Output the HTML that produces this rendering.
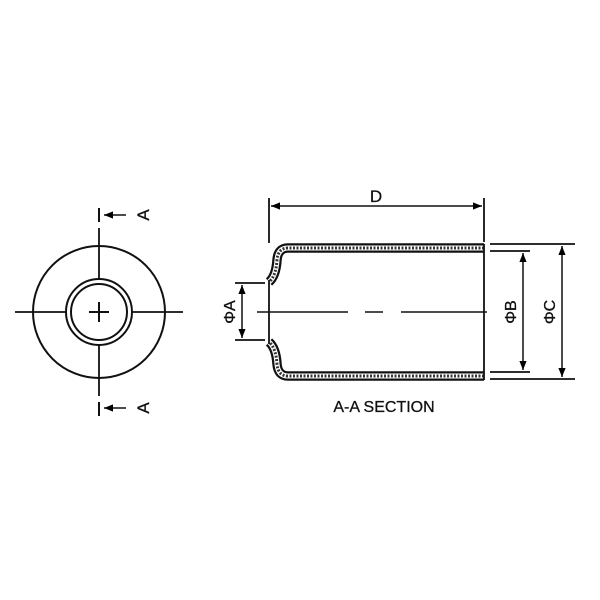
<!DOCTYPE html>
<html><head><style>body{margin:0;background:#fff}svg{display:block}</style></head><body>
<svg width="600" height="600" viewBox="0 0 600 600" xmlns="http://www.w3.org/2000/svg" font-family="Liberation Sans, sans-serif">
<defs>
<marker id="ar" viewBox="0 0 10 10" refX="10" refY="5" markerWidth="8" markerHeight="6" orient="auto-start-reverse"><path d="M0,1 L10,5 L0,9 z" fill="#000"/></marker>
</defs>
<g stroke="#111" fill="none" stroke-width="2">
<circle cx="99" cy="312" r="66"/>
<circle cx="99" cy="312" r="33"/>
<circle cx="99" cy="312" r="28"/>
<line x1="15" y1="312" x2="66" y2="312" stroke-width="1.8"/>
<line x1="132" y1="312" x2="183" y2="312" stroke-width="1.8"/>
<line x1="99" y1="228" x2="99" y2="279" stroke-width="1.8"/>
<line x1="99" y1="345" x2="99" y2="396" stroke-width="1.8"/>
<line x1="89" y1="312" x2="109" y2="312"/>
<line x1="99" y1="302" x2="99" y2="322"/>
<line x1="99" y1="208" x2="99" y2="222"/>
<line x1="99" y1="402" x2="99" y2="416"/>
<line x1="126" y1="215" x2="104" y2="215" stroke-width="1.5" marker-end="url(#ar)"/>
<line x1="126" y1="408" x2="104" y2="408" stroke-width="1.5" marker-end="url(#ar)"/>
</g>
<g font-size="17" fill="#111" stroke="#111" stroke-width="0.3">
<text transform="translate(149,215) rotate(-90)" text-anchor="middle">A</text>
<text transform="translate(149,408) rotate(-90)" text-anchor="middle">A</text>
</g>

<g fill="none" stroke-linejoin="round">
<path id="w1" d="M484,248 L288,248 Q278,248 277,260 Q276,276 269,282"/>
<path id="w2" d="M484,376 L288,376 Q278,376 277,364 Q276,348 269,342"/>
<use href="#w1" stroke="#111" stroke-width="9.5"/>
<use href="#w2" stroke="#111" stroke-width="9.5"/>
<use href="#w1" stroke="#fff" stroke-width="5"/>
<use href="#w2" stroke="#fff" stroke-width="5"/>
<use href="#w1" stroke="#333" stroke-width="3" stroke-dasharray="2 1.5"/>
<use href="#w2" stroke="#333" stroke-width="3" stroke-dasharray="2 1.5"/>
</g>
<g stroke="#111" fill="none" stroke-width="1.8">
<line x1="269" y1="280" x2="269" y2="344"/>
<line x1="484" y1="244" x2="484" y2="380"/>
<line x1="269" y1="198" x2="269" y2="243"/>
<line x1="484" y1="198" x2="484" y2="242"/>
<line x1="271" y1="206" x2="482" y2="206" stroke-width="1.5" marker-start="url(#ar)" marker-end="url(#ar)"/>
<line x1="257" y1="312" x2="348" y2="312" stroke-width="1.5"/>
<line x1="365" y1="312" x2="383" y2="312" stroke-width="1.5"/>
<line x1="401" y1="312" x2="487" y2="312" stroke-width="1.5"/>
<line x1="235" y1="283" x2="265" y2="283"/>
<line x1="235" y1="340" x2="265" y2="340"/>
<line x1="242" y1="285" x2="242" y2="338" stroke-width="1.5" marker-start="url(#ar)" marker-end="url(#ar)"/>
<line x1="490" y1="251" x2="530" y2="251"/>
<line x1="490" y1="372" x2="530" y2="372"/>
<line x1="523" y1="253" x2="523" y2="370" stroke-width="1.5" marker-start="url(#ar)" marker-end="url(#ar)"/>
<line x1="490" y1="244" x2="575" y2="244"/>
<line x1="490" y1="379" x2="575" y2="379"/>
<line x1="562" y1="246" x2="562" y2="377" stroke-width="1.5" marker-start="url(#ar)" marker-end="url(#ar)"/>
</g>
<g fill="#111" stroke="#111" stroke-width="0.3">
<text x="376" y="202" font-size="17" text-anchor="middle">D</text>
<text font-size="16" text-anchor="middle" transform="translate(235,312) rotate(-90)">ΦA</text>
<text font-size="16" text-anchor="middle" transform="translate(516,312) rotate(-90)">ΦB</text>
<text font-size="16" text-anchor="middle" transform="translate(555,312) rotate(-90)">ΦC</text>
<text x="384" y="412" font-size="16" text-anchor="middle">A-A SECTION</text>
</g>
</svg>
</body></html>
